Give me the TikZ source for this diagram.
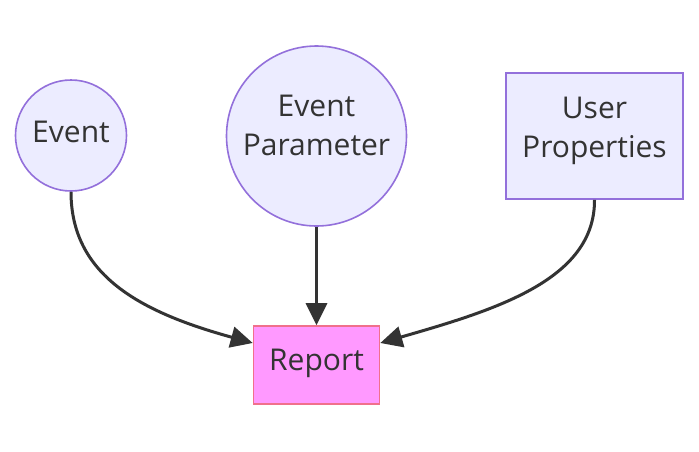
\documentclass[tikz,border=0pt]{standalone}
\usepackage{fontspec}
\setmainfont{Open Sans}
\usetikzlibrary{arrows.meta,calc}
\definecolor{nodefill}{HTML}{ECECFF}
\definecolor{nodedraw}{HTML}{9370DB}
\definecolor{repfill}{HTML}{FF99FF}
\definecolor{repdraw}{HTML}{F0708C}
\definecolor{ink}{HTML}{333333}
\begin{document}
\begin{tikzpicture}[x=1pt,y=-1pt,
  circ/.style={circle,draw=nodedraw,fill=nodefill,line width=1.6pt,inner sep=0pt},
  boxn/.style={rectangle,draw=nodedraw,fill=nodefill,line width=1.6pt,inner sep=0pt},
  repn/.style={rectangle,draw=repdraw,fill=repfill,line width=1.6pt,inner sep=0pt},
  lbl/.style={text=ink,font=\fontsize{30}{39}\selectfont,align=center,inner sep=0pt},
  edge/.style={draw=ink,line width=3pt,-{Triangle[length=22pt,width=21pt]}}]
\useasboundingbox (0,0) rectangle (699,451);
\fill[white] (0,0) rectangle (699,451);
\node[circ,minimum size=111pt] (ev) at (71,135.5) {};
\node[circ,minimum size=180pt] (ep) at (316.5,136) {};
\node[boxn,minimum width=177pt,minimum height=126pt] (up) at (594.5,136) {};
\node[repn,minimum width=126pt,minimum height=78pt] (rep) at (316.5,365) {};
\node[lbl,anchor=base] (evt) at (71,142) {Event};
\node[lbl,anchor=base] (ept) at (316.5,155.5) {Event\\Parameter};
\node[lbl,anchor=base] (upt) at (594.5,157) {User\\Properties};
\node[lbl,anchor=base] (rept) at (316.5,370) {Report};
\draw[edge] (ev.south) .. controls (71,275) and (140,312) .. ([yshift=22pt]rep.west);
\draw[edge] (ep.south) -- (rep.north);
\draw[edge] (up.south) .. controls (595,280) and (495,310) .. ([yshift=22pt]rep.east);
\end{tikzpicture}
\end{document}
